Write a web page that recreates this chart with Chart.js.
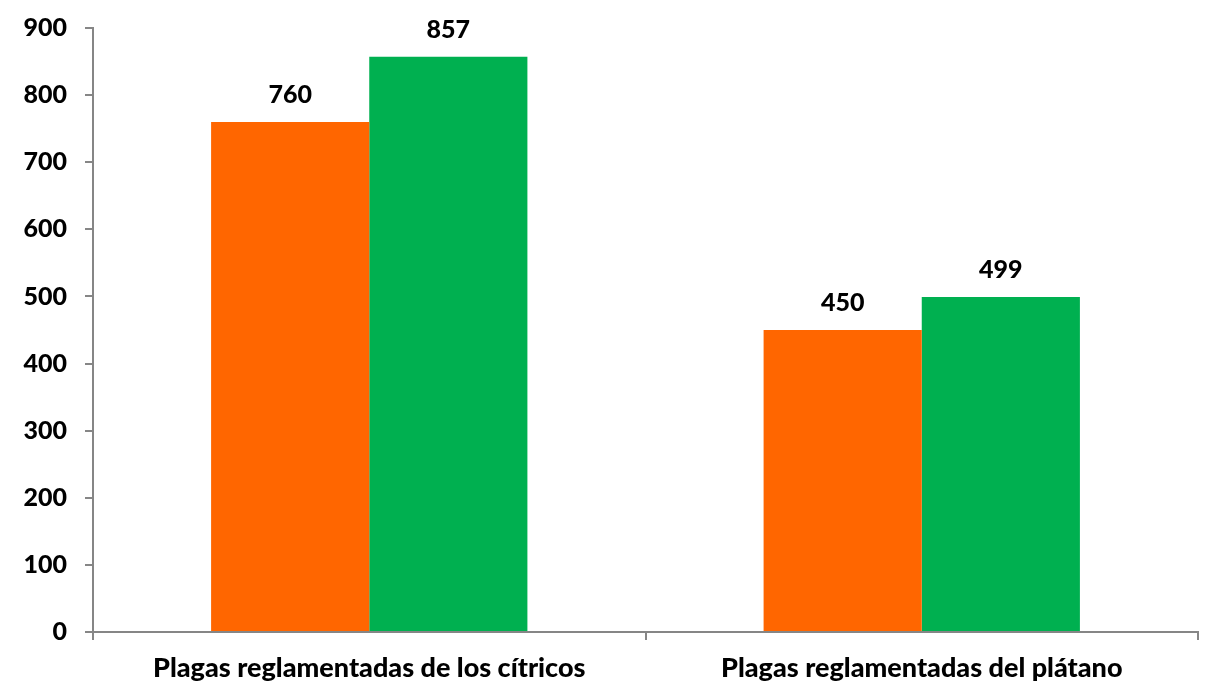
<!DOCTYPE html>
<html><head><meta charset="utf-8">
<script src="https://cdn.jsdelivr.net/npm/chart.js@4/dist/chart.umd.min.js"></script>
<style>html,body{margin:0;padding:0;background:#fff}#wrap{width:1208px;height:690px}</style>
</head><body><div id="wrap"><canvas id="c"></canvas></div>
<script>
const categories = ["Plagas reglamentadas de los cítricos", "Plagas reglamentadas del plátano"];
const seriesA = [760, 450];
const seriesB = [857, 499];
const yTicks = [0,100,200,300,400,500,600,700,800,900];
const FONT = "Lato, Carlito, Calibri, sans-serif";

const labelPlugin = {
  id: 'vals',
  afterDatasetsDraw(chart) {
    const ctx = chart.ctx;
    ctx.save();
    ctx.font = "900 25px " + FONT;
    ctx.fillStyle = "#000";
    ctx.textAlign = "center";
    ctx.textBaseline = "alphabetic";
    chart.data.datasets.forEach((ds, i) => {
      chart.getDatasetMeta(i).data.forEach((bar, j) => {
        ctx.fillText(String(ds.data[j]), bar.x, bar.y - 19);
      });
    });
    ctx.restore();
  }
};

new Chart(document.getElementById('c'), {
  type: 'bar',
  data: {
    labels: categories,
    datasets: [
      {data: seriesA, backgroundColor: '#FF6600', borderWidth: 0},
      {data: seriesB, backgroundColor: '#00B050', borderWidth: 0}
    ]
  },
  options: {
    responsive: true, maintainAspectRatio: false, animation: false,
    layout: {padding: {top: 28, right: 10, left: 0, bottom: 0}},
    plugins: {legend: {display: false}, tooltip: {enabled: false}},
    datasets: {bar: {categoryPercentage: 0.5725, barPercentage: 1}},
    scales: {
      x: {
        grid: {display: true, drawOnChartArea: false, offset: true, tickLength: 8, color: '#868686', lineWidth: 2},
        border: {display: true, color: '#868686', width: 2},
        ticks: {color: '#000', font: {family: FONT, weight: '900', size: 27}, padding: 12, maxRotation: 0, autoSkip: false},
        afterFit(s) { s.height = 58; s.paddingLeft = 0; s.paddingRight = 0; s.paddingTop = 0; s.paddingBottom = 0; }
      },
      y: {
        min: 0, max: 900,
        afterBuildTicks(s) { s.ticks = yTicks.map(v => ({value: v})); },
        grid: {display: true, drawOnChartArea: false, tickLength: 8, color: '#868686', lineWidth: 2},
        border: {display: true, color: '#868686', width: 2},
        ticks: {color: '#000', font: {family: FONT, weight: '900', size: 25}, padding: 18},
        afterFit(s) { s.width = 93; s.paddingTop = 0; s.paddingBottom = 0; }
      }
    }
  },
  plugins: [labelPlugin]
});
</script></body></html>
